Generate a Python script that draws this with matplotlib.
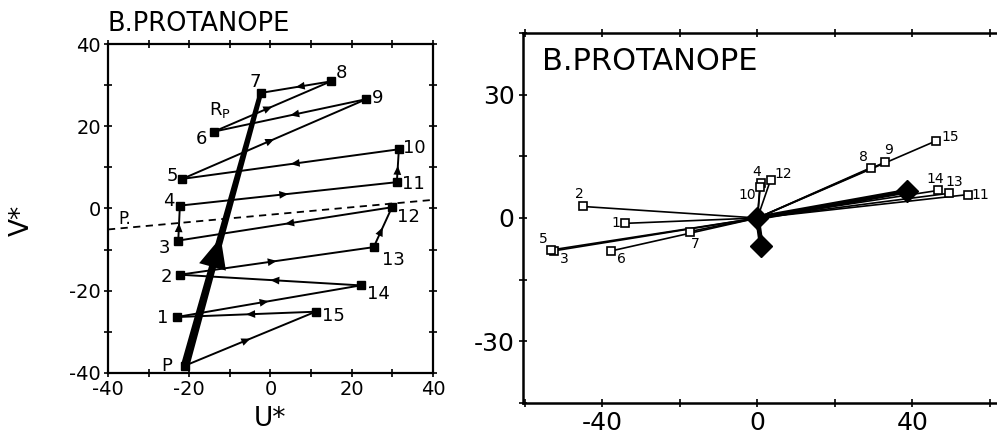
import matplotlib
matplotlib.use("Agg")
import numpy as np
import matplotlib.pyplot as plt
from matplotlib.patches import FancyArrowPatch

plt.rcParams['font.family'] = ['DejaVu Sans']
plt.rcParams['axes.unicode_minus'] = False

# ---- left panel: colour trajectory in the U*, V* plane ----
traj_names = ['P', '1', '2', '3', '4', '5', '6', '7', '8', '9',
              '10', '11', '12', '13', '14', '15']
traj_u = [-21.0, -23.1, -22.3, -22.7, -22.3, -21.7, -13.9, -2.4,
          14.8, 23.6, 31.6, 31.1, 29.9, 25.4, 22.2, 11.1]
traj_v = [-38.2, -26.4, -16.1, -7.8, 0.7, 7.2, 18.7, 28.1,
          30.9, 26.6, 14.4, 6.4, 0.3, -9.4, -18.7, -25.1]
traj_order = ['P', '15', '1', '14', '2', '13', '12', '3', '4',
              '11', '10', '5', '9', '6', '8', '7']
rp_ends = ['P', '7']
confusion_u = [-40, 40]
confusion_v = [-5.1, 2.1]

# ---- right panel: vectors from the neutral point ----
vec_names = ['1', '2', '3', '4', '5', '6', '7', '8', '9', '10',
             '11', '12', '13', '14', '15']
vec_u = [-34.1, -45.0, -52.6, 0.8, -53.4, -37.7, -17.5, 29.2, 33.0, 0.6,
         54.4, 3.4, 49.4, 46.6, 46.2]
vec_v = [-1.3, 2.8, -8.0, 8.4, -7.8, -8.0, -3.3, 12.2, 13.6, 7.5,
         5.7, 9.3, 6.0, 6.7, 18.8]
diamond_u = [0.0, 1.0, 38.5]
diamond_v = [0.0, -6.7, 6.5]

# label offsets in points
left_offsets = {
    'P': (-13, 0), '1': (-10, -1), '2': (-10, -2), '3': (-10, -5),
    '4': (-8, 3), '5': (-7, 2), '6': (-9, -5), '7': (-4, 8),
    '8': (8, 6), '9': (8, 1), '10': (11, 1), '11': (12, -1),
    '12': (12, -7), '13': (14, -9), '14': (13, -6), '15': (13, -3),
}
right_offsets = {
    '1': (-7, 0), '2': (-3, 9), '3': (8, -6), '4': (-3, 8), '5': (-5, 8),
    '6': (7, -6), '7': (4, -9), '8': (-5, 8), '9': (2, 9), '10': (-9, -6),
    '11': (9, 0), '12': (9, 4), '13': (4, 8), '14': (-2, 8), '15': (10, 3),
}

fig = plt.figure(figsize=(9.97, 4.34), dpi=100)

# ================= left panel =================
ax1 = fig.add_axes([0.1083, 0.1406, 0.3260, 0.7580])
ax1.set_xlim(-40, 40)
ax1.set_ylim(-40, 40)
pos = {n: (u, v) for n, u, v in zip(traj_names, traj_u, traj_v)}

# dashed confusion line
ax1.plot(confusion_u, confusion_v, ls=(0, (4, 3)), color='black', lw=1.3,
         clip_on=False, zorder=2)
ax1.text(-35.8, -2.6, 'P.', fontsize=12, ha='center', va='center')

# heavy tapered axis from P to 7
(pu, pv), (su, sv) = pos[rp_ends[0]], pos[rp_ends[1]]
d = np.array([su - pu, sv - pv])
n = np.array([-d[1], d[0]]) / np.hypot(*d)
w0, w1 = 1.05, 0.6
poly = np.array([[pu, pv] + n * w0, [su, sv] + n * w1,
                 [su, sv] - n * w1, [pu, pv] - n * w0])
ax1.fill(poly[:, 0], poly[:, 1], color='black', lw=0, zorder=3)
t = 0.47
big = FancyArrowPatch((pu + d[0] * (t - 0.12), pv + d[1] * (t - 0.12)),
                      (pu + d[0] * t, pv + d[1] * t),
                      arrowstyle='-|>,head_length=2.2,head_width=1.0',
                      mutation_scale=10, color='black', lw=0,
                      shrinkA=0, shrinkB=0, zorder=4)
ax1.add_patch(big)
ax1.text(-12.5, 23.9, r'R$_\mathregular{P}$', fontsize=13, ha='center',
         va='center')

# trajectory with mid-segment arrows
for a, b in zip(traj_order[:-1], traj_order[1:]):
    (ua, va_), (ub, vb) = pos[a], pos[b]
    ax1.plot([ua, ub], [va_, vb], color='black', lw=1.4, zorder=3)
    m = 0.5
    tip = (ua + (ub - ua) * m, va_ + (vb - va_) * m)
    tail = (ua + (ub - ua) * (m - 0.1), va_ + (vb - va_) * (m - 0.1))
    arr = FancyArrowPatch(tail, tip,
                          arrowstyle='-|>,head_length=0.65,head_width=0.28',
                          mutation_scale=10, color='black', lw=0,
                          shrinkA=0, shrinkB=0, zorder=4)
    ax1.add_patch(arr)

ax1.plot(traj_u, traj_v, ls='none', marker='s', ms=6, color='black', zorder=5)
for nm, u, v in zip(traj_names, traj_u, traj_v):
    ax1.annotate(nm, (u, v), xytext=left_offsets[nm], textcoords='offset points',
                 ha='center', va='center', fontsize=13)

ax1.set_xticks(range(-40, 41, 10))
ax1.set_yticks(range(-40, 41, 10))
ax1.set_xticklabels([str(x) if x % 20 == 0 else '' for x in range(-40, 41, 10)])
ax1.set_yticklabels([str(y) if y % 20 == 0 else '' for y in range(-40, 41, 10)])
ax1.tick_params(direction='inout', length=6, width=1.2, labelsize=14,
                top=True, right=True, pad=2)
for sp in ax1.spines.values():
    sp.set_linewidth(1.6)
ax1.set_xlabel('U*', fontsize=19)
ax1.xaxis.set_label_coords(0.498, -0.1)
ax1.set_ylabel('V*', fontsize=19, va='center', ha='center')
ax1.yaxis.set_label_coords(-0.265, 0.465)
ax1.text(0.0, 1.021, 'B.PROTANOPE', transform=ax1.transAxes, fontsize=18.5,
         ha='left', va='bottom')

# ================= right panel =================
ax2 = fig.add_axes([0.5246, 0.0714, 0.4858, 0.8526])
ax2.set_xlim(-60.5, 64.5)
ax2.set_ylim(-45, 45)

# heavy wedge to the right diamond and stem to the lower diamond
ax2.plot([diamond_u[0], diamond_u[2]], [diamond_v[0], diamond_v[2]],
         color='black', lw=3.5, zorder=3)
ax2.plot([diamond_u[0], diamond_u[1]], [diamond_v[0], diamond_v[1]],
         color='black', lw=3.5, zorder=3)
for u, v in zip(vec_u, vec_v):
    ax2.plot([0, u], [0, v], color='black', lw=1.2, zorder=2)
ax2.plot(diamond_u, diamond_v, ls='none', marker='D', ms=11, color='black',
         zorder=4)
ax2.plot(vec_u, vec_v, ls='none', marker='s', ms=5.5, mfc='white',
         mec='black', mew=1.2, zorder=5)
for nm, u, v in zip(vec_names, vec_u, vec_v):
    ax2.annotate(nm, (u, v), xytext=right_offsets[nm], textcoords='offset points',
                 ha='center', va='center', fontsize=10)

ax2.set_xticks(range(-60, 61, 20))
ax2.set_xticklabels([str(x) if x % 40 == 0 else '' for x in range(-60, 61, 20)])
ax2.set_yticks(range(-45, 46, 15))
ax2.set_yticklabels([str(y) if y % 30 == 0 and abs(y) < 45 else ''
                     for y in range(-45, 46, 15)])
ax2.tick_params(direction='inout', length=6, width=1.2, labelsize=18,
                top=True, right=True, pad=3)
for sp in ax2.spines.values():
    sp.set_linewidth(1.8)
ax2.text(0.039, 0.884, 'B.PROTANOPE', transform=ax2.transAxes, fontsize=22,
         ha='left', va='bottom')

fig.savefig('out.png', dpi=100)
